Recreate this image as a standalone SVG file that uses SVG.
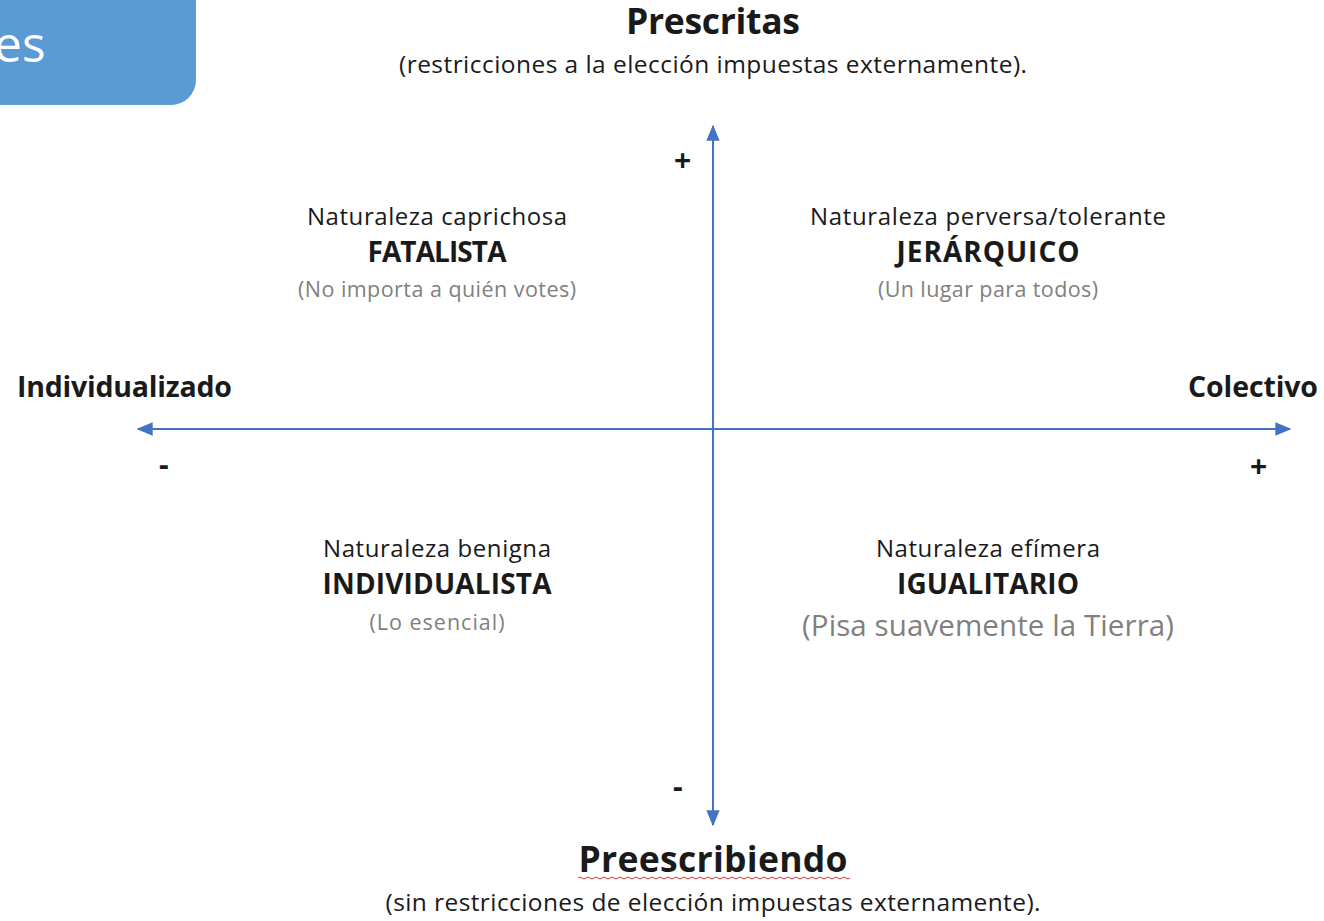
<svg xmlns="http://www.w3.org/2000/svg" width="1324" height="921" viewBox="0 0 1324 921">
<style>
text{font-family:"Open Sans","Noto Sans","Liberation Sans",sans-serif;fill:#1a1a1a}
.t{font-size:35.5px;font-weight:bold;text-anchor:middle}
.s{font-size:24.5px;text-anchor:middle}
.n{font-size:24px;text-anchor:middle}
.b{font-size:28px;font-weight:bold;text-anchor:middle}
.g{font-size:21.5px;text-anchor:middle;fill:#808080}
.ax{font-size:28.5px;font-weight:bold}
.pm{font-size:30px;font-weight:bold}
.axis{stroke:#4472C4;stroke-width:2;fill:none}
</style>
<defs>
<marker id="ah2" viewBox="0 0 12 10" refX="11" refY="5" markerWidth="16" markerHeight="14" markerUnits="userSpaceOnUse" orient="auto"><path d="M0,0 L12,5 L0,10 z" fill="#4472C4"/></marker>
</defs>
<g id="tab">
<path d="M-10,-10 H196 V80 A25,25 0 0 1 171,105 H-10 Z" fill="#5B9BD5"/>
<text x="-6" y="62" style="font-size:50px;fill:#fff">es</text>
</g>
<g id="connectors">
<line class="axis" x1="713" y1="824" x2="713" y2="126" marker-end="url(#ah2)"/>
<line class="axis" x1="713" y1="429" x2="713" y2="825" marker-end="url(#ah2)"/>
<line class="axis" x1="713" y1="429" x2="1290" y2="429" marker-end="url(#ah2)"/>
<line class="axis" x1="713" y1="429" x2="138" y2="429" marker-end="url(#ah2)"/>
</g>
<g id="top">
<text class="t" x="713" y="34" textLength="174">Prescritas</text>
<text class="s" x="713" y="73" textLength="628">(restricciones a la elección impuestas externamente).</text>
</g>
<g id="bottom">
<text class="t" x="713" y="872" textLength="269">Preescribiendo</text>
<path d="M578,878 q2,-2 4,0 t4,0 t4,0 t4,0 t4,0 t4,0 t4,0 t4,0 t4,0 t4,0 t4,0 t4,0 t4,0 t4,0 t4,0 t4,0 t4,0 t4,0 t4,0 t4,0 t4,0 t4,0 t4,0 t4,0 t4,0 t4,0 t4,0 t4,0 t4,0 t4,0 t4,0 t4,0 t4,0 t4,0 t4,0 t4,0 t4,0 t4,0 t4,0 t4,0 t4,0 t4,0 t4,0 t4,0 t4,0 t4,0 t4,0 t4,0 t4,0 t4,0 t4,0 t4,0 t4,0 t4,0 t4,0 t4,0 t4,0 t4,0 t4,0 t4,0 t4,0 t4,0 t4,0 t4,0 t4,0 t4,0 t4,0 t4,0" fill="none" stroke="#E03030" stroke-width="1"/>
<text class="s" x="713" y="911" textLength="655">(sin restricciones de elección impuestas externamente).</text>
</g>
<g id="left">
<text class="ax" x="17" y="397" textLength="215">Individualizado</text>
<text class="pm" x="159" y="475">-</text>
</g>
<g id="right">
<text class="ax" x="1188" y="397" textLength="130">Colectivo</text>
<text class="pm" x="1250" y="477">+</text>
</g>
<g id="plus-top"><text class="pm" x="674" y="171">+</text></g>
<g id="minus-bottom"><text class="pm" x="673" y="797">-</text></g>
<g id="q-fatalista">
<text class="n" x="437" y="225" textLength="260">Naturaleza caprichosa</text>
<text class="b" x="437" y="262" textLength="139">FATALISTA</text>
<text class="g" x="437" y="297" textLength="278">(No importa a quién votes)</text>
</g>
<g id="q-jerarquico">
<text class="n" x="988" y="225" textLength="356">Naturaleza perversa/tolerante</text>
<text class="b" x="988" y="262" textLength="183">JERÁRQUICO</text>
<text class="g" x="988" y="297" textLength="220">(Un lugar para todos)</text>
</g>
<g id="q-individualista">
<text class="n" x="437" y="557" textLength="228">Naturaleza benigna</text>
<text class="b" x="437" y="594" textLength="229">INDIVIDUALISTA</text>
<text class="g" x="437" y="630" textLength="135">(Lo esencial)</text>
</g>
<g id="q-igualitario">
<text class="n" x="988" y="557" textLength="224">Naturaleza efímera</text>
<text class="b" x="988" y="594" textLength="182">IGUALITARIO</text>
<text class="g" x="988" y="636" style="font-size:29.5px" textLength="372">(Pisa suavemente la Tierra)</text>
</g>
</svg>
